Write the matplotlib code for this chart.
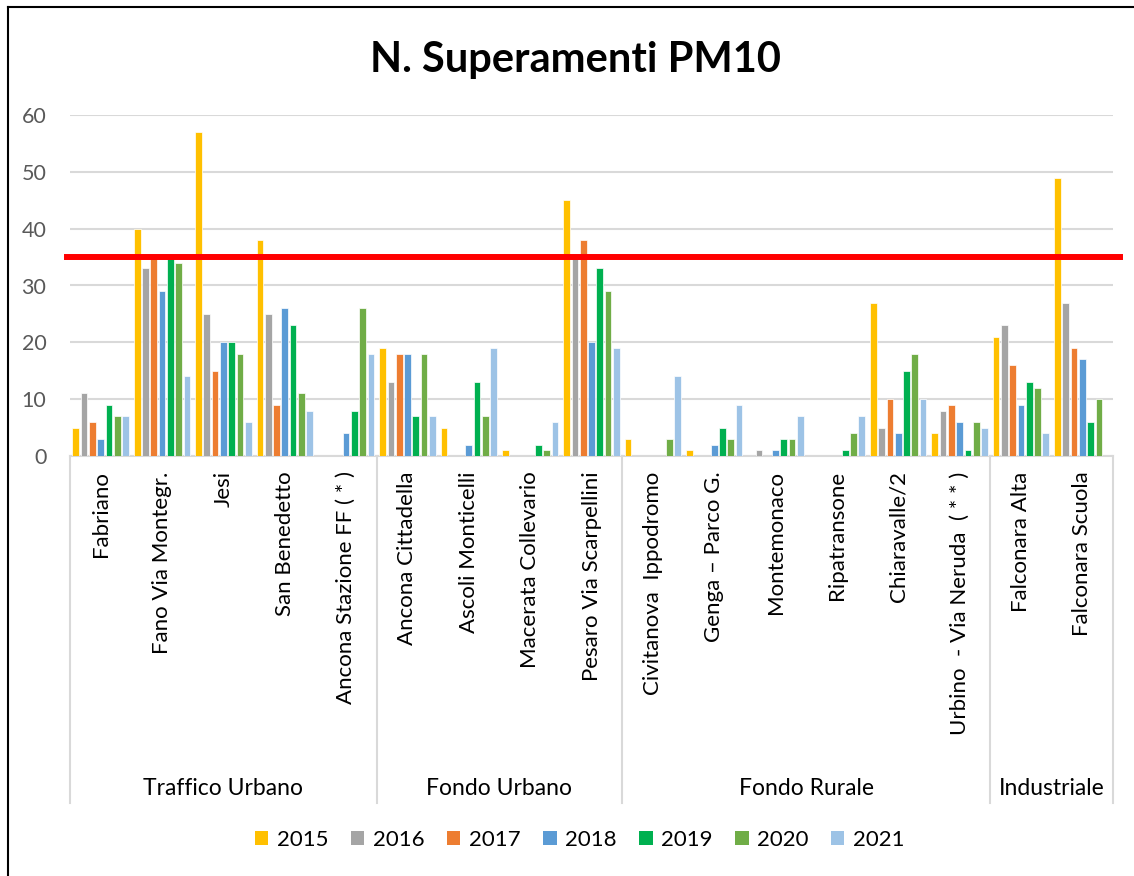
import matplotlib
matplotlib.use('Agg')
import matplotlib.pyplot as plt
from matplotlib.patches import Patch
from matplotlib.lines import Line2D
import numpy as np

plt.rcParams['font.family'] = ['Lato', 'DejaVu Sans']

# data
stations = ['Fabriano', 'Fano Via Montegr.', 'Jesi', 'San Benedetto', 'Ancona Stazione FF ( * )',
            'Ancona Cittadella', 'Ascoli Monticelli', 'Macerata Collevario', 'Pesaro Via Scarpellini',
            'Civitanova  Ippodromo', 'Genga – Parco G.', 'Montemonaco', 'Ripatransone',
            'Chiaravalle/2', 'Urbino  - Via Neruda  ( * * )',
            'Falconara Alta', 'Falconara Scuola']
groups = ['Traffico Urbano', 'Fondo Urbano', 'Fondo Rurale', 'Industriale']
group_sizes = [5, 4, 6, 2]
years = ['2015', '2016', '2017', '2018', '2019', '2020', '2021']
limit = 35

v2015 = [5, 40, 57, 38, 0, 19, 5, 1, 45, 3, 1, 0, 0, 27, 4, 21, 49]
v2016 = [11, 33, 25, 25, 0, 13, 0, 0, 35, 0, 0, 1, 0, 5, 8, 23, 27]
v2017 = [6, 35, 15, 9, 0, 18, 0, 0, 38, 0, 0, 0, 0, 10, 9, 16, 19]
v2018 = [3, 29, 20, 26, 4, 18, 2, 0, 20, 0, 2, 1, 0, 4, 6, 9, 17]
v2019 = [9, 35, 20, 23, 8, 7, 13, 2, 33, 0, 5, 3, 1, 15, 1, 13, 6]
v2020 = [7, 34, 18, 11, 26, 18, 7, 1, 29, 3, 3, 3, 4, 18, 6, 12, 10]
v2021 = [7, 14, 6, 8, 18, 7, 19, 6, 19, 14, 9, 7, 7, 10, 5, 4, 0]
series = [v2015, v2016, v2017, v2018, v2019, v2020, v2021]
colors = ['#FFC000', '#A5A5A5', '#ED7D31', '#5B9BD5', '#00B050', '#70AD47', '#9DC3E6']

W, H = 1134, 876
fig = plt.figure(figsize=(W / 100, H / 100), dpi=100)
ax = fig.add_axes([70 / W, 1 - 456 / H, (1113 - 70) / W, (456 - 115) / H])

x = np.arange(len(stations)) + 0.5
step = 0.135
for j, (vals, c) in enumerate(zip(series, colors)):
    ax.bar(x + (j - 3) * step, vals, width=0.11, color=c, edgecolor='white', linewidth=0.5, zorder=3)

ax.set_xlim(0, len(stations))
ax.set_ylim(0, 60)
ax.set_yticks(range(0, 61, 10))
ax.tick_params(axis='y', length=0, pad=17, labelsize=15.5, labelcolor='#595959')
ax.set_xticks([])
ax.grid(axis='y', color='#D9D9D9', linewidth=1.5, zorder=0)
for s in ['top', 'right', 'left']:
    ax.spines[s].set_visible(False)
ax.spines['bottom'].set_color('#D9D9D9')
ax.spines['bottom'].set_linewidth(1.5)

# limit line
ax.axhline(limit, xmin=-0.003, xmax=1.007, color='#FF0000', linewidth=4.3, zorder=5, clip_on=False)

# category labels
trans = ax.get_xaxis_transform()
for xi, name in zip(x, stations):
    ax.text(xi, -0.045, name, rotation=90, ha='center', va='top', fontsize=16,
            color='#000000', transform=trans)

bounds = np.concatenate([[0], np.cumsum(group_sizes)])
for b in bounds:
    ax.add_line(Line2D([b, b], [0, -1.0176], transform=trans, color='#D9D9D9',
                       linewidth=1.5, clip_on=False))
for g, a, b in zip(groups, bounds[:-1], bounds[1:]):
    ax.text((a + b) / 2, -0.975, g, ha='center', va='center', fontsize=16.5, transform=trans)

fig.text(575 / W, 1 - 60 / H, 'N. Superamenti PM10', ha='center', va='center',
         fontsize=30, fontweight='bold')

handles = [Patch(facecolor=c, edgecolor='none', label=y) for c, y in zip(colors, years)]
fig.legend(handles=handles, loc='center', bbox_to_anchor=(580 / W, 1 - 840 / H), ncol=7,
           frameon=False, fontsize=16, handlelength=0.6, handleheight=0.6,
           handletextpad=0.4, columnspacing=1.0)

# frame on left and top
fig.add_artist(Line2D([8 / W, 8 / W], [0, 1 - 7 / H], color='black', linewidth=1.5))
fig.add_artist(Line2D([8 / W, 1], [1 - 7 / H, 1 - 7 / H], color='black', linewidth=1.5))

fig.savefig('out.png', dpi=100)
